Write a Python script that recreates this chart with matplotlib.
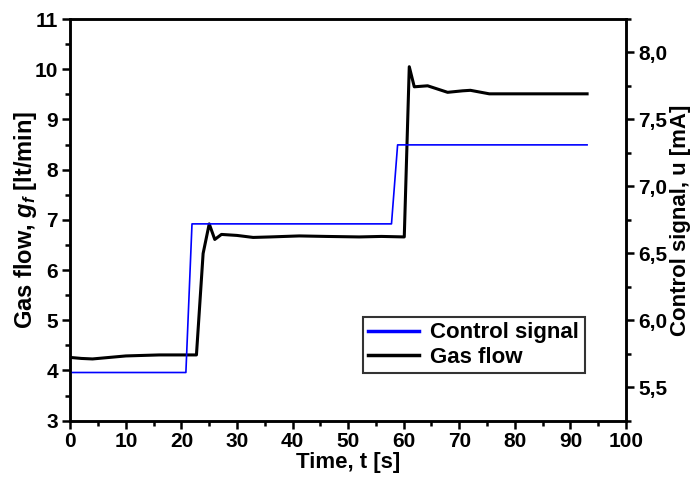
import matplotlib
matplotlib.use("Agg")
import matplotlib.pyplot as plt
from matplotlib.ticker import MultipleLocator, FuncFormatter

plt.rcParams['font.family'] = ['Liberation Sans', 'DejaVu Sans']
plt.rcParams['font.weight'] = 'bold'
plt.rcParams['mathtext.fontset'] = 'custom'
plt.rcParams['mathtext.it'] = 'Liberation Sans:italic:bold'
plt.rcParams['mathtext.rm'] = 'Liberation Sans:bold'

# Gas flow (left axis)
gas_t = [0, 2, 4, 7, 10, 16, 22.7, 23.9, 25.0, 26.0, 27.2, 30, 32.9, 36, 41.2,
         46, 52, 56, 60.1, 61.0, 61.9, 64.3, 67.9, 70.6, 72, 75.4, 80, 85, 93]
gas_g = [4.26, 4.24, 4.23, 4.26, 4.29, 4.31, 4.31, 6.33, 6.92, 6.61, 6.71, 6.69,
         6.65, 6.66, 6.68, 6.67, 6.66, 6.67, 6.66, 10.05, 9.65, 9.67, 9.54, 9.57,
         9.58, 9.51, 9.51, 9.51, 9.51]

# Control signal (right axis)
ctrl_t = [0, 20.8, 21.9, 57.8, 58.9, 93]
ctrl_u = [5.61, 5.61, 6.72, 6.72, 7.31, 7.31]

fig = plt.figure(figsize=(6.94, 4.79), dpi=100)
ax = fig.add_axes([0.1013, 0.1217, 0.8007, 0.8386])
ax2 = ax.twinx()

l_gas, = ax.plot(gas_t, gas_g, color='black', lw=2.2, label='Gas flow', zorder=3)
l_ctrl, = ax2.plot(ctrl_t, ctrl_u, color='#0000ff', lw=1.2, label='Control signal')

ax.set_xlim(0, 100)
ax.set_ylim(3, 11)
ax2.set_ylim(5.25, 8.25)

ax.xaxis.set_major_locator(MultipleLocator(10))
ax.xaxis.set_minor_locator(MultipleLocator(5))
ax.yaxis.set_major_locator(MultipleLocator(1))
ax.yaxis.set_minor_locator(MultipleLocator(0.5))
ax2.yaxis.set_major_locator(MultipleLocator(0.5))
ax2.yaxis.set_minor_locator(MultipleLocator(0.25))
ax2.yaxis.set_major_formatter(FuncFormatter(lambda v, p: f"{v:.1f}".replace('.', ',')))

for a in (ax, ax2):
    for s in a.spines.values():
        s.set_linewidth(1.8)
    a.tick_params(which='major', direction='out', length=6, width=1.8, labelsize=15)
    a.tick_params(which='minor', direction='out', length=3.5, width=1.8)

ax.tick_params(axis='x', pad=2)
ax.tick_params(axis='y', pad=3)
ax2.tick_params(axis='y', pad=3)
ax.set_xlabel('Time, t [s]', fontsize=16, fontweight='bold', labelpad=1)
ax.set_ylabel(r'Gas flow, $g_f$ [lt/min]', fontsize=17, fontweight='bold', labelpad=-3)
ax2.set_ylabel('Control signal, u [mA]', fontsize=16, fontweight='bold', labelpad=2)

leg = ax2.legend(handles=[l_ctrl, l_gas], loc='lower right',
                 bbox_to_anchor=(0.926, 0.118), fontsize=16, frameon=True,
                 fancybox=False, edgecolor='black', handlelength=2.3,
                 borderpad=0.25, labelspacing=0.15, handletextpad=0.5,
                 borderaxespad=0)
leg.get_frame().set_linewidth(1.5)
for line in leg.get_lines():
    line.set_linewidth(2.5)

fig.savefig('out.png', dpi=100)
